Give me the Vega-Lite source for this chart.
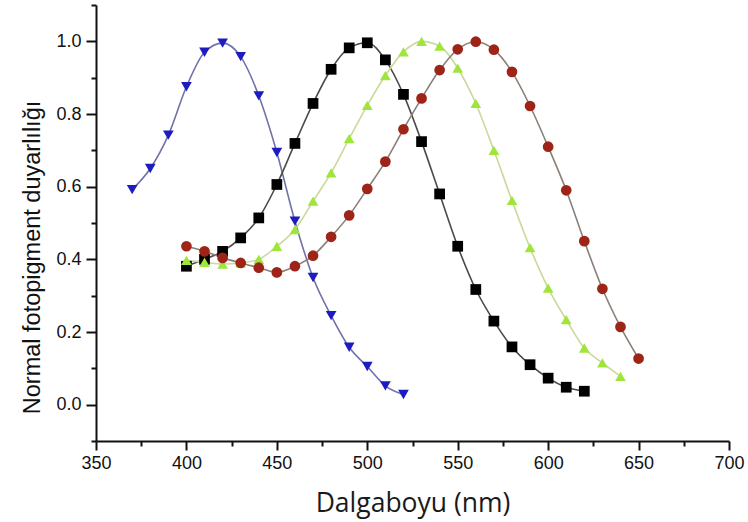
{
  "$schema": "https://vega.github.io/schema/vega-lite/v6.json",
  "width": 633,
  "height": 436,
  "autosize": {"type": "none"},
  "padding": {"left": 96, "top": 5, "right": 19, "bottom": 81},
  "background": "white",
  "config": {
    "view": {"stroke": null},
    "axis": {
      "grid": false,
      "domainColor": "#111",
      "domainWidth": 2,
      "tickColor": "#111",
      "tickWidth": 2,
      "labelOverlap": false,
      "labelFlush": false
    }
  },
  "data": {
    "values": [
      {"series": "S", "x": 370, "y": 0.592},
      {"series": "S", "x": 380, "y": 0.65},
      {"series": "S", "x": 390, "y": 0.742},
      {"series": "S", "x": 400, "y": 0.875},
      {"series": "S", "x": 410, "y": 0.97},
      {"series": "S", "x": 420, "y": 0.995},
      {"series": "S", "x": 430, "y": 0.958},
      {"series": "S", "x": 440, "y": 0.85},
      {"series": "S", "x": 450, "y": 0.694},
      {"series": "S", "x": 460, "y": 0.505},
      {"series": "S", "x": 470, "y": 0.35},
      {"series": "S", "x": 480, "y": 0.245},
      {"series": "S", "x": 490, "y": 0.158},
      {"series": "S", "x": 500, "y": 0.105},
      {"series": "S", "x": 510, "y": 0.052},
      {"series": "S", "x": 520, "y": 0.028},
      {"series": "R", "x": 400, "y": 0.381},
      {"series": "R", "x": 410, "y": 0.4},
      {"series": "R", "x": 420, "y": 0.422},
      {"series": "R", "x": 430, "y": 0.459},
      {"series": "R", "x": 440, "y": 0.514},
      {"series": "R", "x": 450, "y": 0.606},
      {"series": "R", "x": 460, "y": 0.719},
      {"series": "R", "x": 470, "y": 0.829},
      {"series": "R", "x": 480, "y": 0.923},
      {"series": "R", "x": 490, "y": 0.982},
      {"series": "R", "x": 500, "y": 0.996},
      {"series": "R", "x": 510, "y": 0.949},
      {"series": "R", "x": 520, "y": 0.854},
      {"series": "R", "x": 530, "y": 0.724},
      {"series": "R", "x": 540, "y": 0.58},
      {"series": "R", "x": 550, "y": 0.436},
      {"series": "R", "x": 560, "y": 0.317},
      {"series": "R", "x": 570, "y": 0.23},
      {"series": "R", "x": 580, "y": 0.159},
      {"series": "R", "x": 590, "y": 0.11},
      {"series": "R", "x": 600, "y": 0.073},
      {"series": "R", "x": 610, "y": 0.048},
      {"series": "R", "x": 620, "y": 0.037},
      {"series": "M", "x": 400, "y": 0.397},
      {"series": "M", "x": 410, "y": 0.392},
      {"series": "M", "x": 420, "y": 0.387},
      {"series": "M", "x": 430, "y": 0.39},
      {"series": "M", "x": 440, "y": 0.4},
      {"series": "M", "x": 450, "y": 0.436},
      {"series": "M", "x": 460, "y": 0.482},
      {"series": "M", "x": 470, "y": 0.56},
      {"series": "M", "x": 480, "y": 0.638},
      {"series": "M", "x": 490, "y": 0.732},
      {"series": "M", "x": 500, "y": 0.824},
      {"series": "M", "x": 510, "y": 0.906},
      {"series": "M", "x": 520, "y": 0.971},
      {"series": "M", "x": 530, "y": 1.0},
      {"series": "M", "x": 540, "y": 0.987},
      {"series": "M", "x": 550, "y": 0.926},
      {"series": "M", "x": 560, "y": 0.829},
      {"series": "M", "x": 570, "y": 0.7},
      {"series": "M", "x": 580, "y": 0.562},
      {"series": "M", "x": 590, "y": 0.432},
      {"series": "M", "x": 600, "y": 0.321},
      {"series": "M", "x": 610, "y": 0.234},
      {"series": "M", "x": 620, "y": 0.156},
      {"series": "M", "x": 630, "y": 0.115},
      {"series": "M", "x": 640, "y": 0.078},
      {"series": "L", "x": 400, "y": 0.436},
      {"series": "L", "x": 410, "y": 0.422},
      {"series": "L", "x": 420, "y": 0.404},
      {"series": "L", "x": 430, "y": 0.39},
      {"series": "L", "x": 440, "y": 0.377},
      {"series": "L", "x": 450, "y": 0.364},
      {"series": "L", "x": 460, "y": 0.381},
      {"series": "L", "x": 470, "y": 0.41},
      {"series": "L", "x": 480, "y": 0.462},
      {"series": "L", "x": 490, "y": 0.521},
      {"series": "L", "x": 500, "y": 0.594},
      {"series": "L", "x": 510, "y": 0.669},
      {"series": "L", "x": 520, "y": 0.758},
      {"series": "L", "x": 530, "y": 0.843},
      {"series": "L", "x": 540, "y": 0.921},
      {"series": "L", "x": 550, "y": 0.978},
      {"series": "L", "x": 560, "y": 0.999},
      {"series": "L", "x": 570, "y": 0.977},
      {"series": "L", "x": 580, "y": 0.916},
      {"series": "L", "x": 590, "y": 0.822},
      {"series": "L", "x": 600, "y": 0.71},
      {"series": "L", "x": 610, "y": 0.59},
      {"series": "L", "x": 620, "y": 0.45},
      {"series": "L", "x": 630, "y": 0.319},
      {"series": "L", "x": 640, "y": 0.214},
      {"series": "L", "x": 650, "y": 0.127}
    ]
  },
  "resolve": {"axis": {"x": "independent", "y": "independent"}},
  "layer": [
    {
      "mark": {"type": "line", "strokeWidth": 1.6, "interpolate": "monotone"},
      "encoding": {
        "x": {
          "field": "x", "type": "quantitative",
          "scale": {"domain": [350, 700], "nice": false, "zero": false},
          "axis": {
            "orient": "bottom",
            "values": [350, 400, 450, 500, 550, 600, 650, 700],
            "tickSize": 9,
            "labelPadding": 4,
            "labelFont": "Liberation Sans",
            "labelFontSize": 18,
            "labelColor": "#111",
            "title": "Dalgaboyu (nm)",
            "titleFont": "Open Sans",
            "titleFontSize": 26.5,
            "titleFontWeight": "normal",
            "titleColor": "#1a1a1a",
            "titlePadding": 18
          }
        },
        "y": {
          "field": "y", "type": "quantitative",
          "scale": {"domain": [-0.1, 1.1], "nice": false, "zero": false},
          "axis": {
            "orient": "left",
            "values": [0, 0.2, 0.4, 0.6, 0.8, 1.0],
            "format": ".1f",
            "tickSize": 10,
            "labelPadding": 5,
            "labelFont": "Liberation Sans",
            "labelFontSize": 18,
            "labelColor": "#111",
            "title": "Normal fotopigment duyarlılığı",
            "titleFont": "Liberation Sans",
            "titleFontSize": 23.5,
            "titleFontWeight": "normal",
            "titleColor": "#111",
            "titlePadding": 11,
            "titleY": 252
          }
        },
        "stroke": {
          "field": "series", "type": "nominal",
          "scale": {"domain": ["S", "R", "M", "L"], "range": ["#6f72a8", "#4a4a4a", "#c9d99a", "#8c7f78"]},
          "legend": null
        },
        "detail": {"field": "series"}
      }
    },
    {
      "mark": {"type": "point", "filled": true, "size": 115, "opacity": 1},
      "encoding": {
        "x": {
          "field": "x", "type": "quantitative",
          "axis": {
            "orient": "bottom",
            "values": [375, 425, 475, 525, 575, 625, 675],
            "tickSize": 5,
            "labels": false,
            "domain": false,
            "title": null
          }
        },
        "y": {
          "field": "y", "type": "quantitative",
          "axis": {
            "orient": "left",
            "values": [-0.1, 0.1, 0.3, 0.5, 0.7, 0.9, 1.1],
            "tickSize": 5,
            "labels": false,
            "domain": false,
            "title": null
          }
        },
        "shape": {
          "field": "series", "type": "nominal",
          "scale": {"domain": ["S", "R", "M", "L"], "range": ["triangle-down", "square", "triangle-up", "circle"]},
          "legend": null
        },
        "fill": {
          "field": "series", "type": "nominal",
          "scale": {"domain": ["S", "R", "M", "L"], "range": ["#1c1cc0", "#000000", "#9fe53c", "#9e2418"]},
          "legend": null
        }
      }
    }
  ]
}
